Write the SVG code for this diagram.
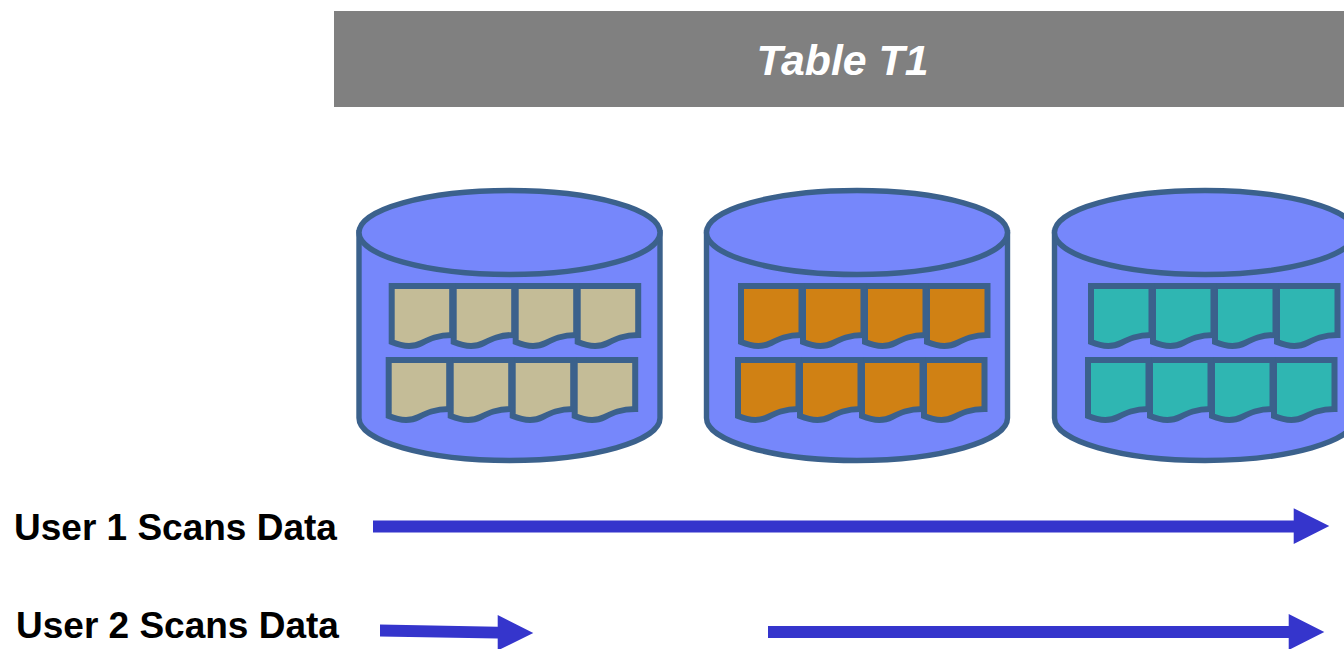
<svg xmlns="http://www.w3.org/2000/svg" xmlns:xlink="http://www.w3.org/1999/xlink" width="1344" height="649" viewBox="0 0 1344 649">
<style>
.lbl{font-family:"Liberation Sans",Arial,sans-serif;font-weight:bold;font-size:37px;fill:#000}
.title{font-family:"Liberation Sans",Arial,sans-serif;font-weight:bold;font-style:italic;font-size:42.800px;fill:#fff}
.cyl{fill:#7687fb;stroke:#3b618c;stroke-width:5.400}
.pg{stroke:#3b618c;stroke-width:6;stroke-linejoin:miter}
.a{fill:#3535cc}
.tan{fill:#c4bc97}.org{fill:#d08114}.teal{fill:#2fb6b2}
</style>
<defs>
<g id="cyl">
<path class="cyl" d="M359 232.500V418C359 441 426 460.500 509.500 460.500S660 441 660 418V232.500Z"/>
<ellipse class="cyl" cx="509.500" cy="232.500" rx="150.500" ry="42"/>
</g>
<path id="page" d="M0 0H60.500V49C46 49 38 53 30 57C22 61 12 61 0 56Z"/>
<g id="row">
<use xlink:href="#page" x="186"/><use xlink:href="#page" x="124"/><use xlink:href="#page" x="62"/><use xlink:href="#page" x="0"/>
</g>
</defs>
<g id="title-bar">
<rect x="334" y="11" width="1010" height="96" fill="#808080"/>
<text class="title" x="842.500" y="75" text-anchor="middle">Table T1</text>
</g>
<g id="cylinder-1">
<use xlink:href="#cyl"/>
<g class="pg tan"><use xlink:href="#row" x="391.700" y="286"/><use xlink:href="#row" x="388.700" y="360"/></g>
</g>
<g id="cylinder-2">
<use xlink:href="#cyl" x="347.500"/>
<g class="pg org"><use xlink:href="#row" x="741" y="286"/><use xlink:href="#row" x="738" y="360"/></g>
</g>
<g id="cylinder-3">
<use xlink:href="#cyl" x="695.500"/>
<g class="pg teal"><use xlink:href="#row" x="1091" y="286"/><use xlink:href="#row" x="1088" y="360"/></g>
</g>
<g id="label-user-1"><text class="lbl" x="14" y="539.500">User 1 Scans Data</text></g>
<g id="label-user-2"><text class="lbl" x="16" y="637.500">User 2 Scans Data</text></g>
<g id="connectors">
<path class="a" d="M373 520.500H1293.700V508.300L1329.300 526L1293.700 544V532.500H373Z"/>
<path class="a" d="M380 624.500L497.700 626.700V615L533.300 633L497.700 650.500V638.500L380 636.500Z"/>
<path class="a" d="M768 626H1288.700V614L1324.300 632L1288.700 650V638H768Z"/>
</g>
</svg>
